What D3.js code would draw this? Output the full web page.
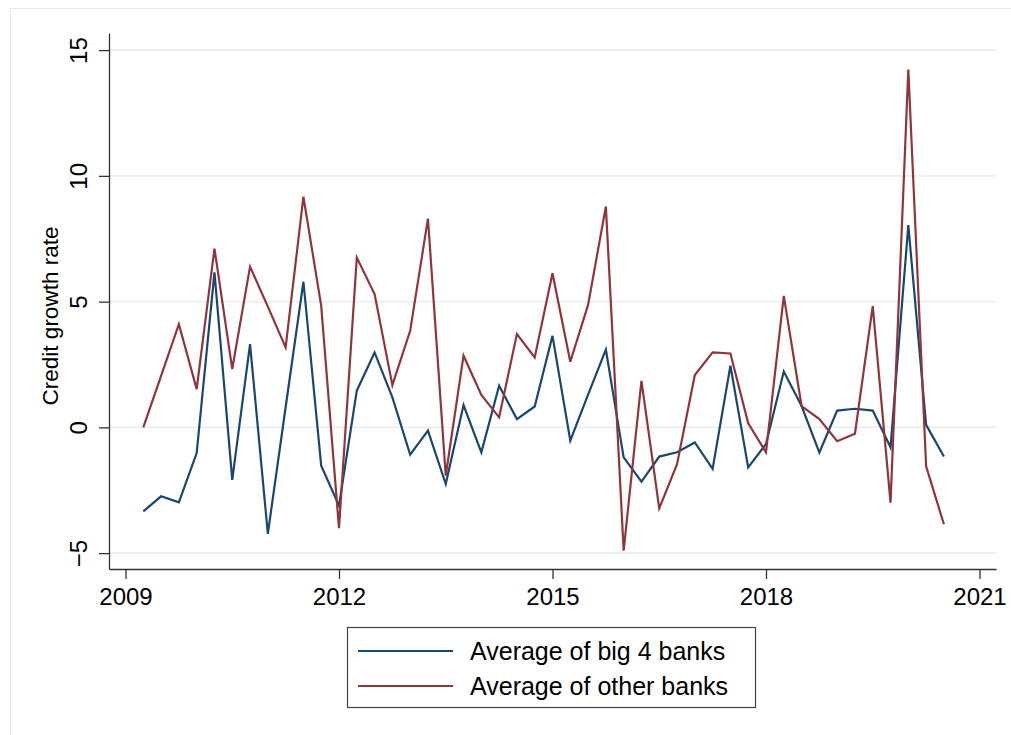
<!DOCTYPE html>
<html>
<head>
<meta charset="utf-8">
<script src="https://cdn.jsdelivr.net/npm/d3@7"></script>
<style>
  html, body { margin: 0; padding: 0; background: #fff; }
  svg { display: block; font-family: "Liberation Sans", Arial, Helvetica, sans-serif; }
</style>
</head>
<body>
<svg id="chart" width="1011" height="735"></svg>
<script>
// Quarterly observations, 2009Q2 .. 2020Q3
const quarters = d3.range(46).map(i => 2009.25 + 0.25 * i);

// Average credit growth rate of the big 4 banks
const big4 = [
  -3.34, -2.74, -2.98, -1.02, 6.16, -2.09, 3.31, -4.23, 0.8, 5.79,
  -1.52, -3.11, 1.46, 2.98, 1.19, -1.08, -0.13, -2.25, 0.89, -0.99,
  1.66, 0.33, 0.83, 3.64, -0.53, 1.3, 3.09, -1.19, -2.16, -1.16,
  -0.99, -0.60, -1.65, 2.45, -1.59, -0.66, 2.22, 0.85, -1.0, 0.67,
  0.74, 0.67, -0.79, 8.04, 0.10, -1.16
];

// Average credit growth rate of the other banks
const others = [
  0.0, 2.05, 4.1, 1.52, 7.11, 2.32, 6.39, 4.8, 3.18, 9.17,
  4.83, -4.01, 6.75, 5.30, 1.68, 3.84, 8.30, -1.92, 2.85, 1.29,
  0.40, 3.71, 2.78, 6.13, 2.61, 4.87, 8.78, -4.90, 1.85, -3.22,
  -1.46, 2.08, 2.98, 2.94, 0.16, -0.99, 5.23, 0.85, 0.33, -0.55,
  -0.25, 4.82, -2.99, 14.23, -1.55, -3.85
];

const xTicks = [2009, 2012, 2015, 2018, 2021];
const yTicks = [-5, 0, 5, 10, 15];
const seriesNames = ["Average of big 4 banks", "Average of other banks"];
const seriesColors = ["#1a476f", "#90353b"];
const yTitle = "Credit growth rate";

const svg = d3.select("#chart");

// light outer frame of the graph region
svg.append("path")
  .attr("d", "M10.5,735 V8.5 H1011")
  .attr("fill", "none")
  .attr("stroke", "#e6e6e6")
  .attr("stroke-width", 1);

const plotLeft = 109, plotRight = 996, plotTop = 33, plotBottom = 569;

const x = d3.scaleLinear().domain([2008.768, 2021.232]).range([plotLeft, plotRight]);
const y = d3.scaleLinear().domain([-5.63, 15.68]).range([plotBottom, plotTop]);

// horizontal grid lines
svg.append("g")
  .selectAll("line")
  .data(yTicks)
  .join("line")
  .attr("x1", plotLeft).attr("x2", plotRight)
  .attr("y1", d => y(d)).attr("y2", d => y(d))
  .attr("stroke", "#e9eef0")
  .attr("stroke-width", 1.6);

// series lines
const line = d3.line()
  .x((d, i) => x(quarters[i]))
  .y(d => y(d));

[big4, others].forEach((vals, k) => {
  svg.append("path")
    .datum(vals)
    .attr("d", line)
    .attr("fill", "none")
    .attr("stroke", seriesColors[k])
    .attr("stroke-width", 2.2)
    .attr("stroke-linejoin", "miter");
});

// y axis
const yAxis = svg.append("g")
  .attr("transform", `translate(${plotLeft},0)`)
  .call(d3.axisLeft(y).tickValues(yTicks).tickSize(10).tickSizeOuter(0).tickFormat(d3.format("d")));
yAxis.select(".domain").attr("stroke", "#333").attr("stroke-width", 1.3);
yAxis.selectAll(".tick line").attr("stroke", "#333").attr("stroke-width", 1.3);
yAxis.selectAll(".tick text")
  .attr("x", 0).attr("y", 0).attr("dy", "0.36em")
  .attr("text-anchor", "middle")
  .attr("transform", "translate(-31,0) rotate(-90)")
  .attr("font-size", 24)
  .attr("font-family", "Liberation Sans, Arial, sans-serif")
  .attr("fill", "#000");

// x axis
const xAxis = svg.append("g")
  .attr("transform", `translate(0,${plotBottom})`)
  .call(d3.axisBottom(x).tickValues(xTicks).tickSize(10).tickSizeOuter(0).tickFormat(d3.format("d")));
xAxis.select(".domain").attr("stroke", "#333").attr("stroke-width", 1.3);
xAxis.selectAll(".tick line").attr("stroke", "#333").attr("stroke-width", 1.3);
xAxis.selectAll(".tick text")
  .attr("y", 27).attr("dy", "0.36em")
  .attr("font-size", 24)
  .attr("font-family", "Liberation Sans, Arial, sans-serif")
  .attr("fill", "#000");

// y axis title
svg.append("text")
  .attr("transform", "translate(50,316) rotate(-90)")
  .attr("text-anchor", "middle")
  .attr("dy", "0.36em")
  .attr("font-size", 22.5)
  .attr("fill", "#000")
  .text(yTitle);

// legend
const legend = svg.append("g");
legend.append("rect")
  .attr("x", 347.5).attr("y", 627.5)
  .attr("width", 408).attr("height", 80)
  .attr("fill", "#fff")
  .attr("stroke", "#444")
  .attr("stroke-width", 1.2);

seriesNames.forEach((name, k) => {
  const ly = 651 + k * 35;
  legend.append("line")
    .attr("x1", 358).attr("x2", 453)
    .attr("y1", ly).attr("y2", ly)
    .attr("stroke", seriesColors[k])
    .attr("stroke-width", 2.2);
  legend.append("text")
    .attr("x", 470).attr("y", ly)
    .attr("dy", "0.36em")
    .attr("font-size", 25)
    .attr("fill", "#000")
    .text(name);
});
</script>
</body>
</html>
